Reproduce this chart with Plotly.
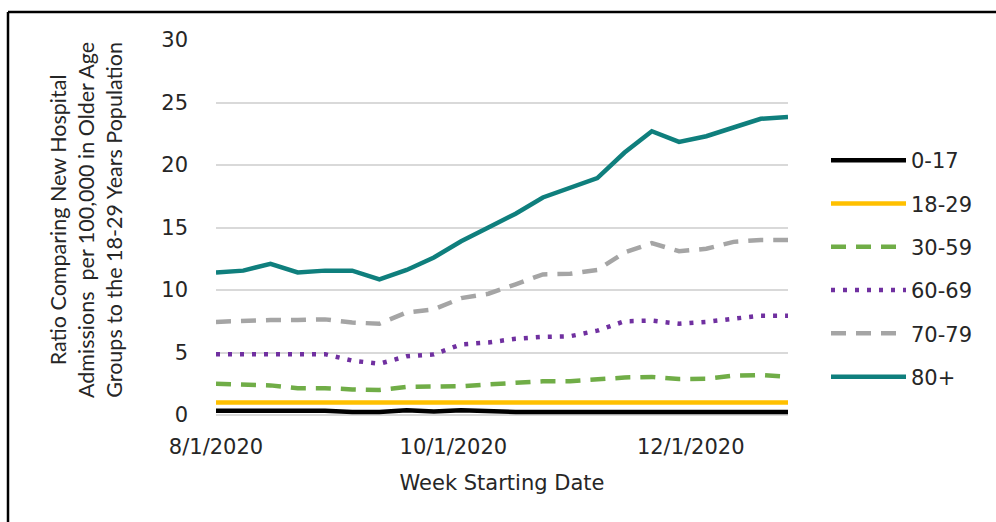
import plotly.graph_objects as go

# ---------------- data ----------------
weeks = ["2020-08-01", "2020-08-08", "2020-08-15", "2020-08-22", "2020-08-29",
         "2020-09-05", "2020-09-12", "2020-09-19", "2020-09-26", "2020-10-03",
         "2020-10-10", "2020-10-17", "2020-10-24", "2020-10-31", "2020-11-07",
         "2020-11-14", "2020-11-21", "2020-11-28", "2020-12-05", "2020-12-12",
         "2020-12-19", "2020-12-26"]

age_groups = ["0-17", "18-29", "30-59", "60-69", "70-79", "80+"]

ratio_0_17 = [0.35, 0.35, 0.35, 0.35, 0.35, 0.25, 0.25, 0.38, 0.28, 0.38, 0.3,
              0.25, 0.25, 0.25, 0.25, 0.25, 0.25, 0.25, 0.25, 0.25, 0.25, 0.25]
ratio_18_29 = [1.0] * 22
ratio_30_59 = [2.5, 2.4, 2.37, 2.15, 2.15, 2.05, 2.0, 2.25, 2.3, 2.3, 2.45,
               2.6, 2.7, 2.7, 2.88, 3.0, 3.05, 2.88, 2.9, 3.15, 3.2, 3.05]
ratio_60_69 = [4.87, 4.87, 4.95, 4.9, 4.87, 4.35, 4.1, 4.7, 4.85, 5.65, 5.8,
               6.1, 6.25, 6.3, 6.75, 7.5, 7.55, 7.3, 7.45, 7.7, 7.95, 7.95]
ratio_70_79 = [7.45, 7.55, 7.6, 7.6, 7.65, 7.4, 7.3, 8.2, 8.45, 9.35, 9.7,
               10.45, 11.25, 11.3, 11.6, 13.0, 13.75, 13.1, 13.3, 13.85, 14.0, 14.0]
ratio_80_plus = [11.4, 11.55, 12.1, 11.4, 11.55, 11.55, 10.85, 11.6, 12.6, 13.9, 15.0,
                 16.1, 17.4, 18.2, 18.95, 21.0, 22.7, 21.85, 22.3, 23.0, 23.7, 23.85]

series = [ratio_0_17, ratio_18_29, ratio_30_59, ratio_60_69, ratio_70_79, ratio_80_plus]

tick_vals = ["2020-08-01", "2020-10-01", "2020-12-01"]
tick_text = ["8/1/2020", "10/1/2020", "12/1/2020"]
y_ticks = [0, 5, 10, 15, 20, 25, 30]

# ---------------- styles ----------------
colors = ["#000000", "#FFC000", "#70AD47", "#7030A0", "#A5A5A5", "#0F7F7D"]
dashes = ["solid", "solid", "15px,10px", "4px,8px", "15px,10px", "solid"]
widths = [4.5, 4.5, 4.5, 4.5, 4.5, 4.5]

FONT = "DejaVu Sans"
TXT = "#262626"

# figure pixel geometry (screen pixels)
W, H = 996, 522
ML, MR, MT, MB = 216, 208, 40, 107
PW, PH = W - ML - MR, H - MT - MB


def px_x(px):
    return (px - ML) / PW


def px_y(py):
    return (H - MB - py) / PH


fig = go.Figure()
for i, (name, vals) in enumerate(zip(age_groups, series)):
    fig.add_trace(go.Scatter(
        x=weeks, y=vals, name=name, mode="lines",
        legendgroup=name,
        line=dict(color=colors[i], width=widths[i], dash=dashes[i]),
    ))

fig.update_layout(
    width=W, height=H,
    margin=dict(l=ML, r=MR, t=MT, b=MB, autoexpand=False),
    paper_bgcolor="white", plot_bgcolor="white",
    font=dict(family=FONT, size=21, color=TXT),
    showlegend=True,
    legend=dict(
        x=px_x(826), y=px_y(140), xanchor="left", yanchor="top",
        font=dict(family=FONT, size=21, color=TXT),
        itemwidth=75, tracegroupgap=13, bgcolor="rgba(0,0,0,0)",
    ),
    xaxis=dict(
        type="date", range=[weeks[0], weeks[-1]],
        tickvals=tick_vals, ticktext=tick_text,
        showgrid=False, zeroline=False, showline=False, ticks="",
        ticklabelstandoff=17,
        tickfont=dict(family=FONT, size=21, color=TXT),
        title=dict(text="Week Starting Date", standoff=17,
                   font=dict(family=FONT, size=21, color=TXT)),
    ),
    yaxis=dict(
        range=[0, 30], tickvals=y_ticks,
        showgrid=True, gridcolor="#D9D9D9", gridwidth=1.5,
        zeroline=True, zerolinecolor="#D9D9D9", zerolinewidth=1.5,
        showline=False, ticks="",
        ticklabelstandoff=27,
        tickfont=dict(family=FONT, size=21, color=TXT),
    ),
    annotations=[dict(
        text="Ratio Comparing New Hospital<br>Admissions  per 100,000 in Older Age<br>Groups to the 18-29 Years Population",
        textangle=-90, xref="paper", yref="paper",
        x=px_x(86), y=px_y(220), xanchor="center", yanchor="middle",
        showarrow=False, font=dict(family="Lato", size=21.5, color=TXT),
    )],
    shapes=[
        dict(type="line", xref="paper", yref="paper",
             x0=px_x(8), x1=px_x(1000), y0=px_y(12), y1=px_y(12),
             line=dict(color="black", width=2.5)),
        dict(type="line", xref="paper", yref="paper",
             x0=px_x(8), x1=px_x(8), y0=px_y(12), y1=px_y(530),
             line=dict(color="black", width=2.5)),
    ],
)

fig.write_html("out.html",
               config={"displayModeBar": False},
               post_script="document.body.style.margin='0px';document.body.style.padding='0px';")
